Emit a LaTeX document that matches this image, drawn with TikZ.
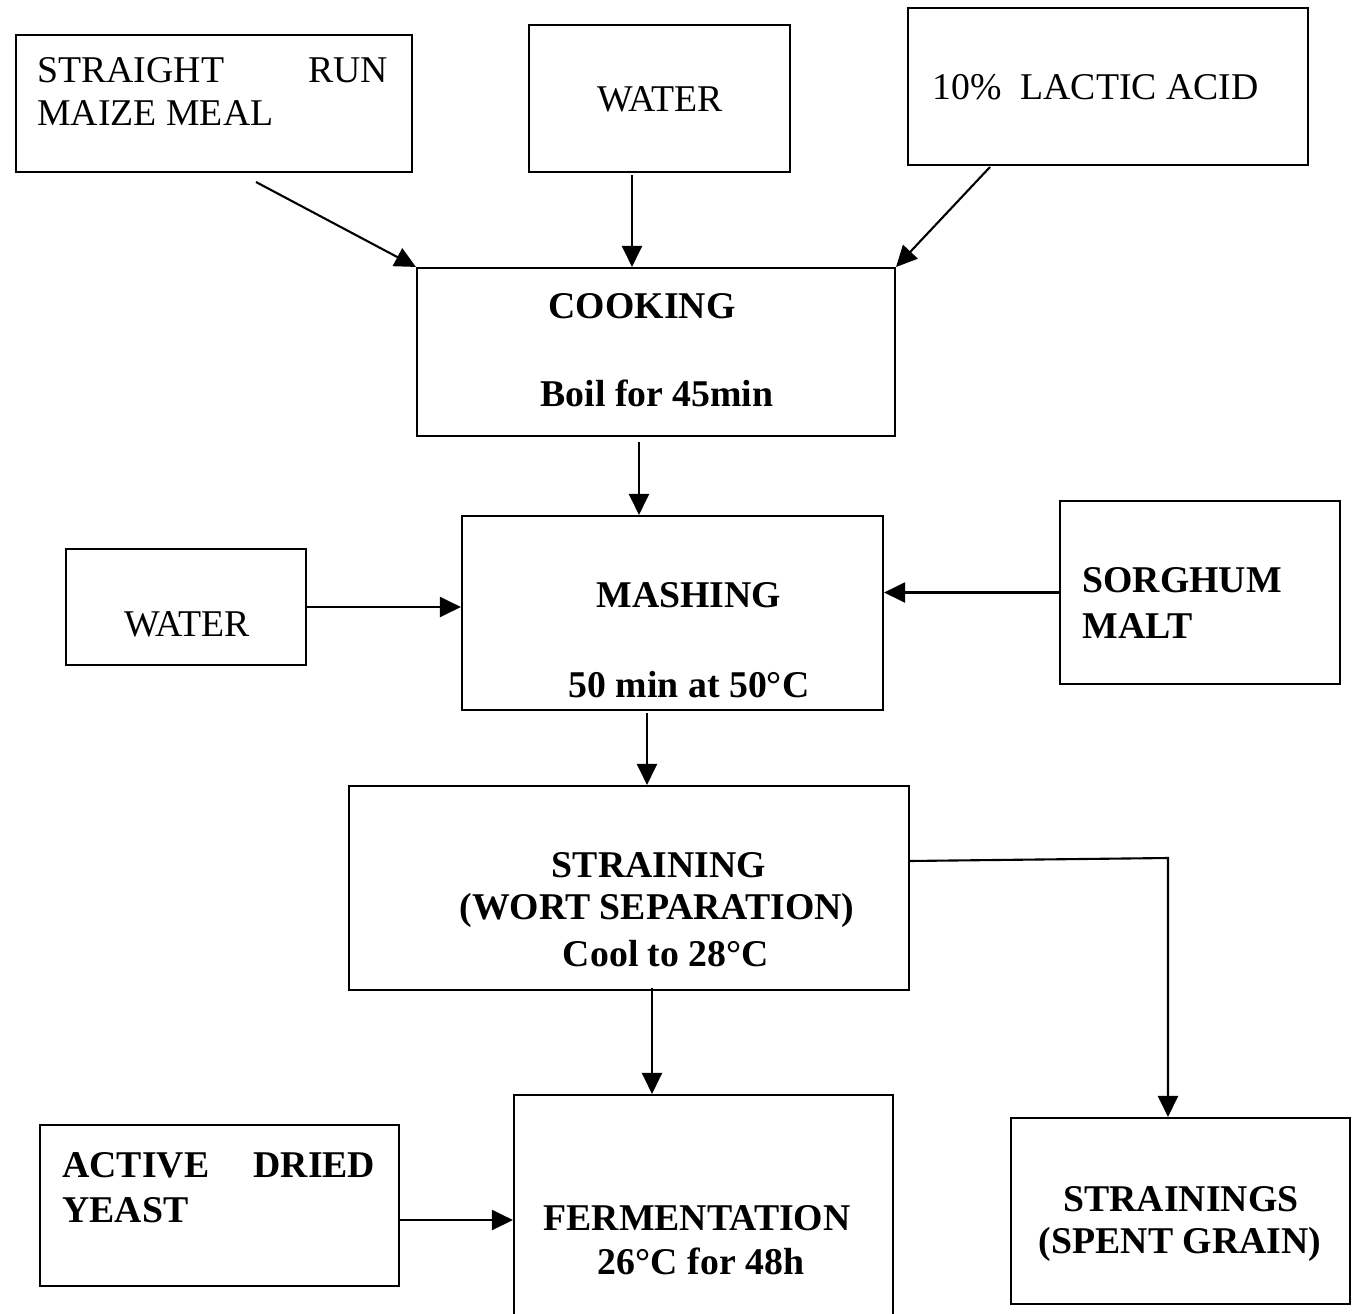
\documentclass[tikz,border=0pt]{standalone}
\usepackage{fontspec}
\setmainfont{Liberation Serif}
\usetikzlibrary{arrows.meta,calc}
\tikzset{
  box/.style={draw, line width=1.2pt, rectangle, inner sep=0pt},
  txt/.style={inner sep=0pt, font=\fontsize{21.5}{25}\selectfont},
  btxt/.style={inner sep=0pt, font=\fontsize{21.5}{25}\selectfont\bfseries},
  arr/.style={line width=1.2pt, -{Triangle[length=0.42cm,width=0.4cm]}}
}
\begin{document}
\begin{tikzpicture}[x=0.02cm,y=-0.02cm]
\clip (0,0) rectangle (1360,1313);
\fill[white] (0,0) rectangle (1360,1313);
% boxes
\node[box, minimum width={396*0.02cm}, minimum height={137*0.02cm}] (maize) at (214,103.5) {};
\node[box, minimum width={261*0.02cm}, minimum height={147*0.02cm}] (water1) at (659.5,98.5) {};
\node[box, minimum width={400*0.02cm}, minimum height={157*0.02cm}] (lactic) at (1108,86.5) {};
\node[box, minimum width={478*0.02cm}, minimum height={168*0.02cm}] (cook) at (656,352) {};
\node[box, minimum width={240*0.02cm}, minimum height={116*0.02cm}] (water2) at (186,607) {};
\node[box, minimum width={421*0.02cm}, minimum height={194*0.02cm}] (mash) at (672.5,613) {};
\node[box, minimum width={280*0.02cm}, minimum height={183*0.02cm}] (sorg) at (1200,592.5) {};
\node[box, minimum width={560*0.02cm}, minimum height={204*0.02cm}] (strain) at (629,888) {};
\node[box, minimum width={359*0.02cm}, minimum height={161*0.02cm}] (yeast) at (219.5,1205.5) {};
\node[box, minimum width={379*0.02cm}, minimum height={240*0.02cm}] (ferm) at (703.5,1215) {};
\node[box, minimum width={339*0.02cm}, minimum height={186*0.02cm}] (spent) at (1180.5,1211) {};
% texts
\node[txt, anchor=base west] (t1) at (37,82) {\makebox[7.02cm][s]{STRAIGHT\hfill RUN}};
\node[txt, anchor=base west] (t2) at (37,125) {MAIZE MEAL};
\node[txt, anchor=base] (t3) at (660,111) {WATER};
\node[txt, anchor=base west] (t4) at (932,99) {10\%\ \ LACTIC ACID};
\node[btxt, anchor=base] (t5) at (642,318) {COOKING};
\node[btxt, anchor=base] (t6) at (657,406) {Boil for 45min};
\node[txt, anchor=base] (t7) at (187,636) {WATER};
\node[btxt, anchor=base] (t8) at (689,607) {MASHING};
\node[btxt, anchor=base] (t9) at (689,697) {50 min at 50°C};
\node[btxt, anchor=base west] (t10) at (1082,592) {SORGHUM};
\node[btxt, anchor=base west] (t11) at (1082,638) {MALT};
\node[btxt, anchor=base] (t12) at (659,877) {STRAINING};
\node[btxt, anchor=base] (t13) at (657,919) {(WORT SEPARATION)};
\node[btxt, anchor=base] (t14) at (666,966) {Cool to 28°C};
\node[btxt, anchor=base west] (t15) at (62,1177) {\makebox[6.26cm][s]{ACTIVE\hfill DRIED}};
\node[btxt, anchor=base west] (t16) at (62,1222) {YEAST};
\node[btxt, anchor=base] (t17) at (697,1230) {FERMENTATION};
\node[btxt, anchor=base] (t18) at (701,1274) {26°C for 48h};
\node[btxt, anchor=base] (t19) at (1181,1211) {STRAININGS};
\node[btxt, anchor=base] (t20) at (1180,1253) {(SPENT GRAIN)};
% connector start points
\coordinate (m1) at (256,182);
\coordinate (w1) at (632,175);
\coordinate (l1) at (990,167);
\coordinate (c1) at (639,442);
\coordinate (ma1) at (647,713);
\coordinate (s1) at (652,988);
\coordinate (s2) at (909,861);
\coordinate (s3) at (1168,858);
\coordinate (y1) at (399,1220);
% connectors
\draw[arr] (m1) -- (cook.north west);
\draw[arr] (w1) -- (w1 |- cook.north);
\draw[arr] (l1) -- (cook.north east);
\draw[arr] (c1) -- (c1 |- mash.north);
\draw[arr] (water2.east) -- (mash.west |- water2.east);
\draw[arr] (sorg.west) -- (mash.east |- sorg.west);
\draw[arr] (ma1) -- (ma1 |- strain.north);
\draw[arr] (s1) -- (s1 |- ferm.north);
\draw[arr] (s2) -- (s3) -- (s3 |- spent.north);
\draw[arr] (y1) -- (ferm.west |- y1);
\end{tikzpicture}
\end{document}
